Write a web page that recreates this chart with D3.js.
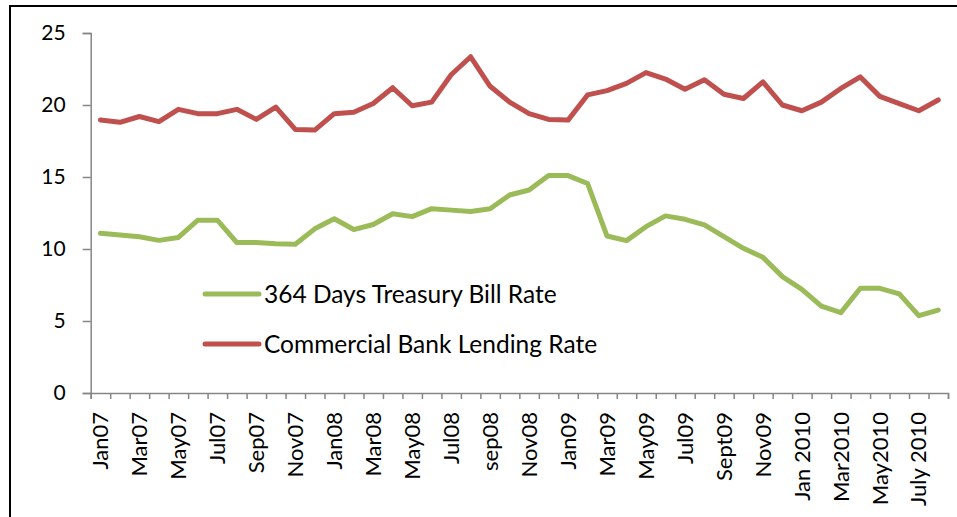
<!DOCTYPE html>
<html>
<head>
<meta charset="utf-8">
<script src="https://cdn.jsdelivr.net/npm/d3@7"></script>
<style>
  html, body { margin: 0; padding: 0; background: #fff; }
  svg { display: block; font-family: Lato, "Open Sans", sans-serif; }
</style>
</head>
<body>
<svg id="chart" width="957" height="517"></svg>
<script>
// Monthly categories, Jan 2007 – Aug 2010
const months = [
  "Jan07","Feb07","Mar07","Apr07","May07","Jun07","Jul07","Aug07","Sep07","Oct07","Nov07","Dec07",
  "Jan08","Feb08","Mar08","Apr08","May08","Jun08","Jul08","Aug08","sep08","Oct08","Nov08","Dec08",
  "Jan09","Feb09","Mar09","Apr09","May09","Jun09","Jul09","Aug09","Sept09","Oct09","Nov09","Dec09",
  "Jan 2010","Feb2010","Mar2010","Apr2010","May2010","Jun2010","July 2010","Aug2010"
];

// 364 Days Treasury Bill Rate (%)
const tbillRate = [
  11.09, 10.97, 10.85, 10.6, 10.8, 12.0, 12.0, 10.45, 10.45, 10.37, 10.33, 11.4,
  12.1, 11.35, 11.7, 12.45, 12.25, 12.8, 12.7, 12.6, 12.8, 13.75, 14.1, 15.1,
  15.1, 14.55, 10.9, 10.58, 11.55, 12.3, 12.06, 11.67, 10.86, 10.05, 9.42, 8.08,
  7.2, 6.04, 5.58, 7.27, 7.27, 6.88, 5.37, 5.76
];

// Commercial Bank Lending Rate (%)
const lendingRate = [
  18.96, 18.8, 19.2, 18.85, 19.7, 19.4, 19.4, 19.7, 19.0, 19.85, 18.3, 18.26,
  19.4, 19.5, 20.1, 21.2, 19.95, 20.2, 22.1, 23.35, 21.3, 20.2, 19.4, 19.0,
  18.95, 20.7, 21.0, 21.5, 22.25, 21.8, 21.1, 21.75, 20.75, 20.45, 21.6, 20.0,
  19.6, 20.2, 21.15, 21.95, 20.6, 20.1, 19.6, 20.35
];

const yTicks = [0, 5, 10, 15, 20, 25];

const seriesNames = ["364 Days Treasury Bill Rate", "Commercial Bank Lending Rate"];
const seriesColors = ["#9BBB59", "#C0504D"];

const svg = d3.select("#chart");
const axisColor = "#868686";

// Outer chart frame
svg.append("rect")
  .attr("x", 10).attr("y", 6)
  .attr("width", 970).attr("height", 530)
  .attr("fill", "none").attr("stroke", "#000").attr("stroke-width", 2);

const plot = { left: 90.7, right: 948, top: 33, bottom: 393 };

const x = d3.scaleBand().domain(months).range([plot.left, plot.right]).padding(0);
const xEdge = d3.scaleLinear().domain([0, months.length]).range([plot.left, plot.right]);
const y = d3.scaleLinear().domain([0, 25]).range([plot.bottom, plot.top]);

// Y axis
const yAxis = svg.append("g")
  .attr("transform", `translate(${plot.left},0)`)
  .call(d3.axisLeft(y).tickValues(yTicks).tickSize(8).tickPadding(17));
yAxis.select(".domain").attr("stroke", axisColor).attr("stroke-width", 1.5);
yAxis.selectAll(".tick line").attr("stroke", axisColor).attr("stroke-width", 1.5);
yAxis.selectAll(".tick text")
  .attr("fill", "#000").style("font-size", "21px").style("font-family", "Lato, sans-serif");

// X axis: tick marks between categories
const xTickAxis = svg.append("g")
  .attr("transform", `translate(0,${plot.bottom})`)
  .call(d3.axisBottom(xEdge).tickValues(d3.range(months.length + 1)).tickSize(6).tickFormat(""));
xTickAxis.select(".domain").attr("stroke", axisColor).attr("stroke-width", 1.5);
xTickAxis.selectAll(".tick line").attr("stroke", axisColor).attr("stroke-width", 1.5);

// X axis labels: every other month, rotated
const xLabelAxis = svg.append("g")
  .attr("transform", `translate(0,${plot.bottom})`)
  .call(d3.axisBottom(x).tickValues(months.filter((d, i) => i % 2 === 0)).tickSize(0).tickPadding(0));
xLabelAxis.select(".domain").remove();
xLabelAxis.selectAll(".tick text")
  .attr("fill", "#000")
  .style("font-size", "22px").style("font-family", "Lato, sans-serif")
  .attr("text-anchor", "end")
  .attr("transform", "rotate(-90)")
  .attr("x", -19).attr("y", 0).attr("dy", "0.35em");

// Series lines
const line = d3.line()
  .x((d, i) => x(months[i]) + x.bandwidth() / 2)
  .y(d => y(d));

[tbillRate, lendingRate].forEach((vals, k) => {
  svg.append("path")
    .datum(vals)
    .attr("fill", "none")
    .attr("stroke", seriesColors[k])
    .attr("stroke-width", 5)
    .attr("stroke-linejoin", "round")
    .attr("stroke-linecap", "round")
    .attr("d", line);
});

// Legend
const legend = svg.append("g").attr("transform", "translate(205,294)");
seriesNames.forEach((name, k) => {
  const g = legend.append("g").attr("transform", `translate(0,${k * 50})`);
  g.append("line")
    .attr("x1", 0).attr("x2", 54).attr("y1", 0).attr("y2", 0)
    .attr("stroke", seriesColors[k]).attr("stroke-width", 5).attr("stroke-linecap", "round");
  g.append("text")
    .attr("x", 59).attr("y", 0).attr("dy", "0.36em")
    .style("font-size", "24.5px").style("font-family", "Lato, sans-serif")
    .attr("fill", "#000")
    .text(name);
});
</script>
</body>
</html>
